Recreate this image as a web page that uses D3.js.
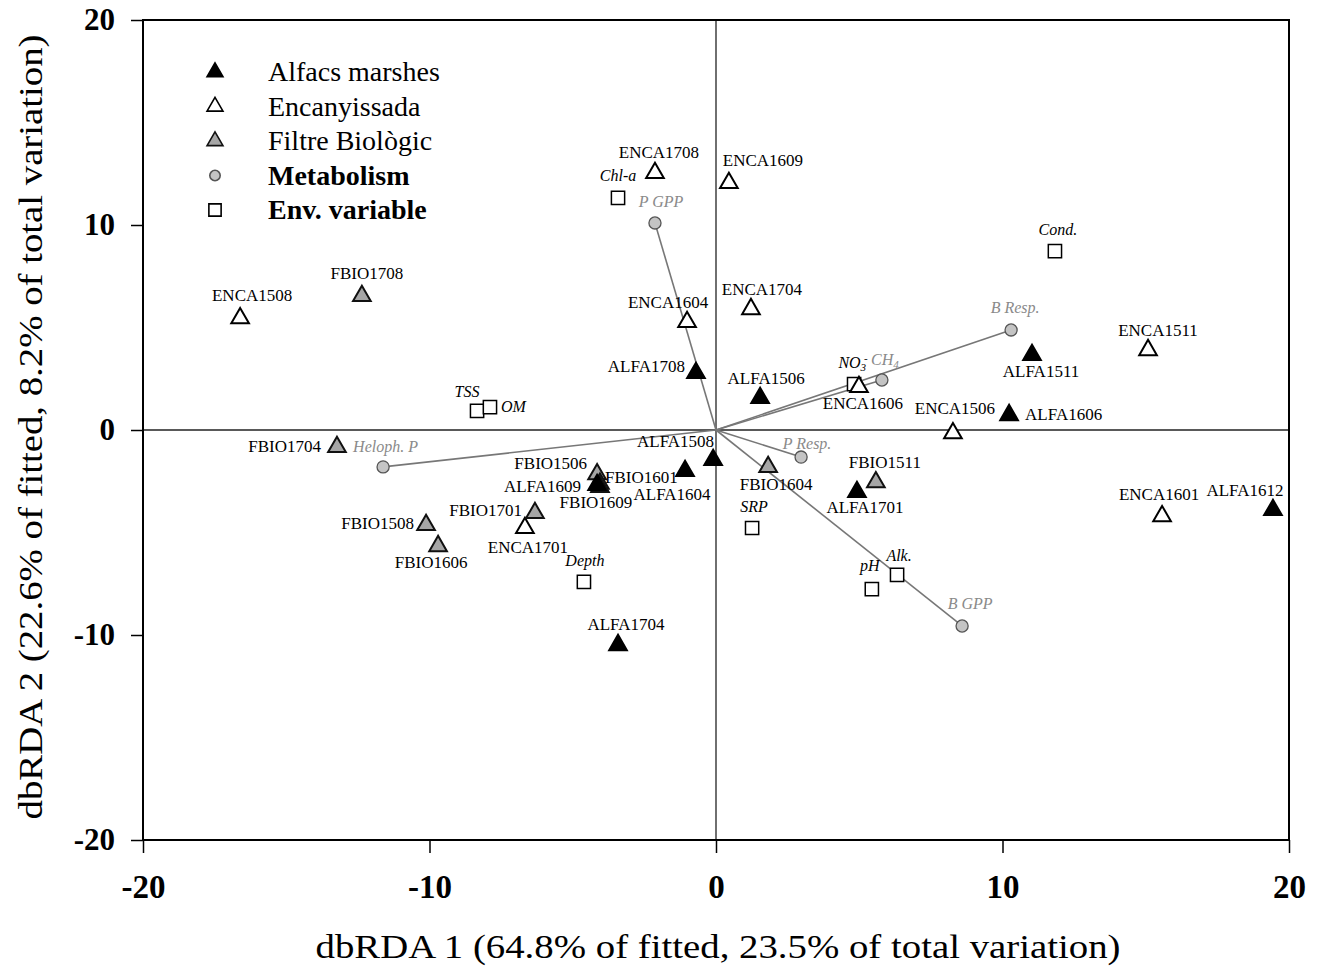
<!DOCTYPE html>
<html>
<head>
<meta charset="utf-8">
<script src="https://cdn.jsdelivr.net/npm/d3@7"></script>
<style>
  body { margin: 0; background: #fff; }
  svg text { font-family: "Liberation Serif", "Times New Roman", serif; }
  .frame { fill: none; stroke: #000; stroke-width: 2; }
  .zero { stroke: #222; stroke-width: 1.3; }
  .vector { stroke: #777; stroke-width: 1.6; }
  .tick line { stroke: #000; stroke-width: 1.5; }
  .tick text { font-weight: bold; fill: #000; }
  .domain { display: none; }
</style>
</head>
<body>
<div id="chart"></div>
<script>
// sample scores [name, dbRDA1, dbRDA2]
const alfacs = [
    ["ALFA1708", -0.70, 2.78],
    ["ALFA1506", 1.54, 1.56],
    ["ALFA1511", 11.03, 3.66],
    ["ALFA1606", 10.23, 0.73],
    ["ALFA1508", -0.10, -1.46],
    ["ALFA1604", -1.08, -2.00],
    ["ALFA1701", 4.92, -3.02],
    ["ALFA1612", 19.44, -3.90],
    ["ALFA1704", -3.42, -10.49],
    ["ALFA1609", -4.15, -2.68]
];
const encanyissada = [
    ["ENCA1708", -2.13, 12.54],
    ["ENCA1609", 0.45, 12.05],
    ["ENCA1508", -16.61, 5.46],
    ["ENCA1604", -1.01, 5.27],
    ["ENCA1704", 1.22, 5.90],
    ["ENCA1511", 15.08, 3.90],
    ["ENCA1606", 4.99, 2.10],
    ["ENCA1506", 8.27, -0.15],
    ["ENCA1701", -6.67, -4.78],
    ["ENCA1601", 15.57, -4.20]
];
const filtre = [
    ["FBIO1708", -12.36, 6.54],
    ["FBIO1704", -13.23, -0.83],
    ["FBIO1506", -4.15, -2.15],
    ["FBIO1601", -4.05, -2.62],
    ["FBIO1609", -4.05, -2.78],
    ["FBIO1511", 5.58, -2.54],
    ["FBIO1604", 1.82, -1.80],
    ["FBIO1701", -6.32, -4.05],
    ["FBIO1508", -10.12, -4.63],
    ["FBIO1606", -9.70, -5.66]
];
// metabolism vectors
const metabolism = [
    ["P GPP", -2.13, 10.10],
    ["B Resp.", 10.30, 4.88],
    ["CH4", 5.79, 2.44],
    ["Heloph. P", -11.62, -1.80],
    ["P Resp.", 2.97, -1.32],
    ["B GPP", 8.59, -9.56]
];
// environmental variables
const envVars = [
    ["Chl-a", -3.42, 11.32],
    ["Cond.", 11.83, 8.73],
    ["NO3-", 4.82, 2.24],
    ["TSS", -8.34, 0.93],
    ["OM", -7.89, 1.12],
    ["SRP", 1.26, -4.78],
    ["Depth", -4.61, -7.41],
    ["Alk.", 6.32, -7.07],
    ["pH", 5.44, -7.76]
];
const ticks = [-20, -10, 0, 10, 20];
const legendItems = ["Alfacs marshes", "Encanyissada", "Filtre Biològic", "Metabolism", "Env. variable"];

// label placement: [dx, dy, anchor] in px from the marker
const labelPos = {
    "ALFA1708": [-11, -1, "end"], "ALFA1506": [6, -14, "middle"], "ALFA1511": [9, 22, "middle"],
    "ALFA1606": [16, 5, "start"], "ALFA1508": [1, -13, "end"], "ALFA1604": [-13, 29, "middle"],
    "ALFA1609": [-16, 7, "end"], "ALFA1701": [8, 21, "middle"], "ALFA1612": [-28, -14, "middle"],
    "ALFA1704": [8, -15, "middle"],
    "ENCA1708": [4, -15, "middle"], "ENCA1609": [34, -17, "middle"], "ENCA1508": [12, -17, "middle"],
    "ENCA1604": [-19, -14, "middle"], "ENCA1704": [11, -14, "middle"], "ENCA1511": [10, -14, "middle"],
    "ENCA1606": [4, 22, "middle"], "ENCA1506": [2, -19, "middle"], "ENCA1701": [3, 25, "middle"],
    "ENCA1601": [-3, -16, "middle"],
    "FBIO1708": [5, -17, "middle"], "FBIO1704": [-16, 5, "end"], "FBIO1506": [-10, -5, "end"],
    "FBIO1601": [5, -1, "start"], "FBIO1609": [-4, 21, "middle"], "FBIO1511": [9, -14, "middle"],
    "FBIO1604": [8, 23, "middle"], "FBIO1701": [-13, 3, "end"], "FBIO1508": [-12, 4, "end"],
    "FBIO1606": [-7, 22, "middle"],
    "P GPP": [6, -16, "middle"], "B Resp.": [4, -17, "middle"], "CH4": [3, -15, "middle"],
    "Heloph. P": [-30, -15, "start"], "P Resp.": [6, -8, "middle"], "B GPP": [8, -17, "middle"],
    "Chl-a": [0, -17, "middle"], "Cond.": [3, -16, "middle"], "NO3-": [-1, -16, "middle"],
    "TSS": [-10, -14, "middle"], "OM": [11, 5, "start"], "SRP": [2, -16, "middle"],
    "Depth": [1, -16, "middle"], "Alk.": [2, -14, "middle"], "pH": [-2, -18, "middle"]
};

const W = 1323, H = 968;
const margin = {left: 143, right: 34, top: 20, bottom: 128};
const width = W - margin.left - margin.right;
const height = H - margin.top - margin.bottom;

const x = d3.scaleLinear().domain([-20, 20]).range([0, width]);
const y = d3.scaleLinear().domain([-20, 20]).range([height, 0]);

const svg = d3.select("#chart").append("svg")
    .attr("width", W)
    .attr("height", H);

const chart = svg.append("g")
    .attr("transform", `translate(${margin.left},${margin.top})`);

const plainFormat = function (d) { return String(d); };

// axes
chart.append("g")
    .attr("class", "x axis")
    .attr("transform", `translate(0,${height})`)
    .call(d3.axisBottom(x).tickValues(ticks).tickFormat(plainFormat).tickSize(13).tickPadding(22))
    .selectAll("text").style("font-size", "33px");

chart.append("g")
    .attr("class", "y axis")
    .call(d3.axisLeft(y).tickValues(ticks).tickFormat(plainFormat).tickSize(12).tickPadding(16))
    .selectAll("text").style("font-size", "31px");

// zero lines
chart.append("line").attr("class", "zero")
    .attr("x1", x(0)).attr("x2", x(0)).attr("y1", 0).attr("y2", height);
chart.append("line").attr("class", "zero")
    .attr("x1", 0).attr("x2", width).attr("y1", y(0)).attr("y2", y(0));

chart.append("rect").attr("class", "frame")
    .attr("width", width).attr("height", height);

// axis titles
svg.append("text")
    .attr("x", margin.left + x(0) + 2)
    .attr("y", 958)
    .attr("text-anchor", "middle")
    .attr("textLength", 805)
    .attr("lengthAdjust", "spacingAndGlyphs")
    .style("font-size", "34px")
    .text("dbRDA 1 (64.8% of fitted, 23.5% of total variation)");

svg.append("text")
    .attr("transform", `translate(42,${margin.top + y(0) - 3}) rotate(-90)`)
    .attr("text-anchor", "middle")
    .attr("textLength", 785)
    .attr("lengthAdjust", "spacingAndGlyphs")
    .style("font-size", "34px")
    .text("dbRDA 2 (22.6% of fitted, 8.2% of total variation)");

// metabolism vectors
chart.selectAll(".vector")
    .data(metabolism)
    .enter().append("line")
    .attr("class", "vector")
    .attr("x1", x(0)).attr("y1", y(0))
    .attr("x2", function (d) { return x(d[1]); })
    .attr("y2", function (d) { return y(d[2]); });

const tri = d3.symbol().type(d3.symbolTriangle).size(135);
const sq = d3.symbol().type(d3.symbolSquare).size(175);
const circ = d3.symbol().type(d3.symbolCircle).size(115);

const groups = [
    {data: envVars, sym: sq, fill: "#fff", stroke: "#000", sw: 1.5},
    {data: metabolism, sym: circ, fill: "#c4c4c4", stroke: "#555", sw: 1.3},
    {data: encanyissada, sym: tri, fill: "#fff", stroke: "#000", sw: 2},
    {data: filtre, sym: tri, fill: "#a6a6a6", stroke: "#111", sw: 2},
    {data: alfacs, sym: tri, fill: "#000", stroke: "#000", sw: 2}
];

groups.forEach(function (g) {
    chart.append("g").selectAll("path")
        .data(g.data)
        .enter().append("path")
        .attr("transform", function (d) { return `translate(${x(d[1])},${y(d[2])})`; })
        .attr("d", g.sym)
        .style("fill", g.fill)
        .style("stroke", g.stroke)
        .style("stroke-width", g.sw);
});

// labels
function addLabels(data, opts) {
    chart.append("g").selectAll("text")
        .data(data)
        .enter().append("text")
        .attr("x", function (d) { return x(d[1]) + labelPos[d[0]][0]; })
        .attr("y", function (d) { return y(d[2]) + labelPos[d[0]][1]; })
        .attr("text-anchor", function (d) { return labelPos[d[0]][2]; })
        .style("font-size", opts.size + "px")
        .style("font-style", opts.italic ? "italic" : "normal")
        .style("fill", opts.color)
        .each(function (d) {
            const t = d3.select(this);
            if (d[0] === "CH4") {
                t.append("tspan").text("CH");
                t.append("tspan").attr("dy", 3).style("font-size", "11px").text("4");
            } else if (d[0] === "NO3-") {
                t.append("tspan").text("NO");
                t.append("tspan").attr("dy", 3).style("font-size", "11px").text("3");
                t.append("tspan").attr("dy", -9).attr("dx", -2).style("font-size", "11px").text("-");
            } else {
                t.text(d[0]);
            }
        });
}

addLabels(alfacs, {size: 17, color: "#000"});
addLabels(encanyissada, {size: 17, color: "#000"});
addLabels(filtre, {size: 17, color: "#000"});
addLabels(metabolism, {size: 16, italic: true, color: "#8a8a8a"});
addLabels(envVars, {size: 16, italic: true, color: "#000"});

// legend
const legendSyms = [
    {sym: d3.symbol().type(d3.symbolTriangle).size(110), fill: "#000", stroke: "#000"},
    {sym: d3.symbol().type(d3.symbolTriangle).size(110), fill: "#fff", stroke: "#000"},
    {sym: d3.symbol().type(d3.symbolTriangle).size(110), fill: "#a6a6a6", stroke: "#111"},
    {sym: d3.symbol().type(d3.symbolCircle).size(85), fill: "#c4c4c4", stroke: "#555"},
    {sym: d3.symbol().type(d3.symbolSquare).size(150), fill: "#fff", stroke: "#000"}
];

const legend = svg.append("g").attr("transform", "translate(215,72)");
legendItems.forEach(function (name, i) {
    const row = legend.append("g").attr("transform", `translate(0,${i * 34.5})`);
    row.append("path")
        .attr("d", legendSyms[i].sym)
        .style("fill", legendSyms[i].fill)
        .style("stroke", legendSyms[i].stroke)
        .style("stroke-width", 1.6);
    row.append("text")
        .attr("x", 53)
        .attr("y", 9)
        .style("font-size", "28px")
        .style("font-weight", i >= 3 ? "bold" : "normal")
        .text(name);
});
</script>
</body>
</html>
